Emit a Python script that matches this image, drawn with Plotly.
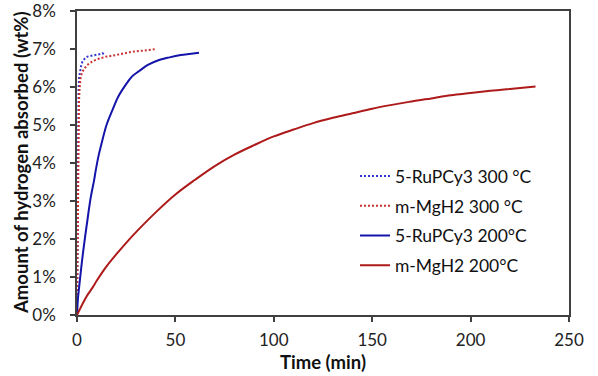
import plotly.graph_objects as go

# 5-RuPCy3 300 °C (dotted blue)
ru300_t = [0, 0.15, 0.3, 0.45, 0.6, 0.8, 1.1, 1.6, 2.2, 2.8, 3.8, 5.3, 7.9, 10.4, 12.0, 12.9, 13.8]
ru300_w = [0, 1.8, 3.6, 4.8, 5.5, 5.95, 6.27, 6.45, 6.58, 6.67, 6.74, 6.8, 6.82, 6.84, 6.87, 6.89, 6.86]

# m-MgH2 300 °C (dotted red)
mg300_t = [0, 0.2, 0.4, 0.6, 0.8, 1.0, 1.3, 1.9, 2.7, 3.7, 4.8, 6.2, 8.5, 11.3, 15, 19.7, 24, 28.2, 34, 40]
mg300_w = [0, 1.3, 2.7, 4.0, 5.0, 5.6, 5.95, 6.27, 6.4, 6.49, 6.56, 6.62, 6.69, 6.75, 6.8, 6.84, 6.88, 6.93, 6.96, 7.0]

# 5-RuPCy3 200°C (solid blue)
ru200_t = [0, 0.5, 1.1, 2.8, 5.3, 7, 8.7, 9.5, 11, 12.9, 15, 18, 21, 25.6, 28, 31.6, 36, 41.7, 47, 52.7, 57, 62]
ru200_w = [0, 0.45, 0.74, 1.53, 2.5, 3.1, 3.55, 3.8, 4.2, 4.6, 5.0, 5.39, 5.75, 6.12, 6.28, 6.42, 6.58, 6.71, 6.78, 6.84, 6.87, 6.9]

# m-MgH2 200°C (solid red)
mg200_t = [0, 5, 7.9, 10, 15, 20, 25, 30, 40, 50, 60, 70, 80, 90, 100, 110, 120, 130, 140, 150,
           160, 170, 180, 190, 200, 210, 220, 233]
mg200_w = [0, 0.5, 0.72, 0.9, 1.28, 1.6, 1.9, 2.18, 2.7, 3.17, 3.56, 3.92, 4.22, 4.47, 4.7, 4.88,
           5.05, 5.19, 5.31, 5.43, 5.53, 5.62, 5.7, 5.78, 5.84, 5.9, 5.95, 6.01]

x_ticks = [0, 50, 100, 150, 200, 250]
y_ticks = [0, 1, 2, 3, 4, 5, 6, 7, 8]
y_labels = [f"{v}%" for v in y_ticks]
x_title = "Time (min)"
y_title = "Amount of hydrogen absorbed (wt%)"

FONT = "Lato"
BLUE_D = "#3535D0"
RED_D = "#C83232"
BLUE = "#1414AA"
RED = "#AE1A1A"

fig = go.Figure()
series = [
    ("5-RuPCy3 300 °C", ru300_t, ru300_w, BLUE_D, "2px,2px", "linear"),
    ("m-MgH2 300 °C", mg300_t, mg300_w, RED_D, "2px,2px", "linear"),
    ("5-RuPCy3 200°C", ru200_t, ru200_w, BLUE, "solid", "spline"),
    ("m-MgH2 200°C", mg200_t, mg200_w, RED, "solid", "spline"),
]
for i, (name, t, w, c, d, sh) in enumerate(series):
    fig.add_trace(go.Scatter(x=t, y=w, mode="lines", name=name, legendgroup=f"g{i}",
                             line=dict(color=c, width=2, dash=d, shape=sh)))

axis_common = dict(showline=True, linecolor="#404040", linewidth=1.5, mirror=True,
                   ticks="outside", ticklen=5, tickwidth=1.5, tickcolor="#404040",
                   showgrid=False, zeroline=False, automargin=False, ticklabeloverflow="allow",
                   tickfont=dict(family=FONT, size=17, color="#222"))
fig.update_xaxes(range=[0, 250], tickvals=x_ticks, ticklabelstandoff=4, **axis_common)
fig.update_yaxes(range=[0, 8], tickvals=y_ticks, ticktext=y_labels, ticklabelstandoff=11, **axis_common)

title_font = dict(family=FONT, size=18.5, color="#111")
fig.add_annotation(text=f"<b>{x_title}</b>", xref="paper", yref="paper", x=0.5, y=0,
                   xanchor="center", yanchor="middle", yshift=-47, showarrow=False, font=title_font)
fig.add_annotation(text=f"<b>{y_title}</b>", xref="paper", yref="paper", x=0, y=0.5,
                   xanchor="center", yanchor="middle", xshift=-56, textangle=-90,
                   showarrow=False, font=title_font)

fig.update_layout(
    width=598, height=376,
    margin=dict(l=77, r=29, t=11, b=61),
    paper_bgcolor="white", plot_bgcolor="white",
    legend=dict(x=0.565, y=0.516, xanchor="left", yanchor="top",
                font=dict(family=FONT, size=17.5, color="#111"),
                bgcolor="rgba(0,0,0,0)", tracegroupgap=4, itemwidth=30),
    showlegend=True,
)

# remove the default 8px page margin so the figure sits at the window's top-left corner
fig.write_html("out.html", config={"displayModeBar": False},
               post_script="document.body.style.margin='0';")
